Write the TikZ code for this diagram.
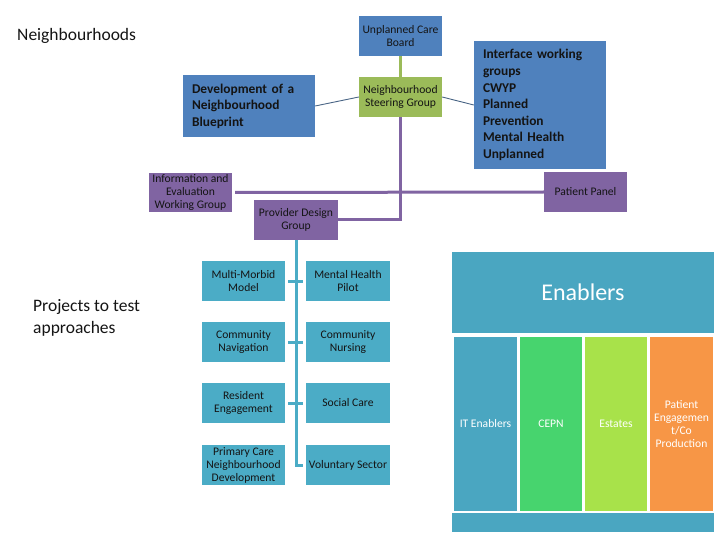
\documentclass[tikz,border=0pt]{standalone}
\usepackage{fontspec}
\setmainfont{Carlito}
\definecolor{cblue}{HTML}{4F81BD}
\definecolor{cgreen}{HTML}{9BBB59}
\definecolor{cpurple}{HTML}{8064A2}
\definecolor{cteal}{HTML}{4BACC6}
\definecolor{ctealE}{HTML}{4AA6C1}
\definecolor{ccepn}{HTML}{47D46E}
\definecolor{cestates}{HTML}{A8E24A}
\definecolor{corange}{HTML}{F79646}
\definecolor{cslate}{HTML}{4A6585}
\definecolor{ctext}{HTML}{141414}
\tikzset{
  box/.style={draw=none, inner sep=0.5pt, align=center, text=ctext,
    font=\fontsize{11.6}{13}\selectfont},
  bigbox/.style={draw=none, fill=cblue, inner xsep=9pt, inner ysep=2pt, align=left,
    text=ctext, font=\fontsize{13.4}{16.6}\selectfont\bfseries},
  tealbox/.style={box, fill=cteal, minimum height=40pt},
  encol/.style={draw=none, inner sep=0.5pt, align=center, text=white,
    font=\fontsize{11.6}{13}\selectfont, minimum height=174pt},
  thin/.style={draw=cslate, line width=0.9pt},
  thickg/.style={draw=cgreen, line width=3pt},
  thickp/.style={draw=cpurple, line width=3pt},
  thickt/.style={draw=cteal, line width=3pt},
  heading/.style={inner sep=0pt, align=left, text=ctext,
    font=\fontsize{17.5}{22}\selectfont}
}
\begin{document}
\begin{tikzpicture}[x=1pt,y=-1pt]
\useasboundingbox (0,0) rectangle (720,540);
% headings
\node[heading, anchor=west] (hN) at (17,36) {Neighbourhoods};
\node[heading, anchor=west] (hP) at (33,318) {Projects to test\\approaches};
% top nodes
\node[box, fill=cblue, minimum width=83pt, minimum height=40pt] (ucb) at (400.5,36) {Unplanned Care\\Board};
\node[box, fill=cgreen, minimum width=83pt, minimum height=40pt] (nsg) at (400.5,97) {Neighbourhood\\Steering Group};
\node[bigbox, text width=114pt, minimum height=62pt] (blue) at (249,106) {Development of a\\Neighbourhood\\Blueprint};
\node[bigbox, text width=114pt, minimum height=128pt] (iface) at (540,105) {Interface working\\groups\\CWYP\\Planned\\Prevention\\Mental Health\\Unplanned};
\node[box, fill=cpurple, minimum width=83pt, minimum height=40pt] (pp) at (585.5,192) {Patient Panel};
\node[box, fill=cpurple, minimum width=83pt, minimum height=39pt] (ieg) at (190.5,192.5) {Information and\\Evaluation\\Working Group};
\node[box, fill=cpurple, minimum width=84pt, minimum height=40pt] (pdg) at (296,220) {Provider Design\\Group};
% project boxes
\node[tealbox, minimum width=83pt] (r1l) at (243.5,281) {Multi-Morbid\\Model};
\node[tealbox, minimum width=84pt] (r1r) at (348,281) {Mental Health\\Pilot};
\node[tealbox, minimum width=83pt] (r2l) at (243.5,342) {Community\\Navigation};
\node[tealbox, minimum width=84pt] (r2r) at (348,342) {Community\\Nursing};
\node[tealbox, minimum width=83pt] (r3l) at (243.5,403) {Resident\\Engagement};
\node[tealbox, minimum width=84pt] (r3r) at (348,403) {Social Care};
\node[tealbox, minimum width=83pt] (r4l) at (243.5,465) {Primary Care\\Neighbourhood\\Development};
\node[tealbox, minimum width=84pt] (r4r) at (348,465) {Voluntary Sector};
% enablers
\node[draw=none, fill=ctealE, minimum width=262pt, minimum height=81pt, text=white,
  font=\fontsize{24}{28}\selectfont] (en) at (583,292.5) {Enablers};
\node[encol, fill=ctealE, minimum width=63pt] (it) at (485.5,424) {IT Enablers};
\node[encol, fill=ccepn, minimum width=62pt] (cepn) at (551,424) {CEPN};
\node[encol, fill=cestates, minimum width=62pt] (est) at (616,424) {Estates};
\node[encol, fill=corange, minimum width=63pt] (pe) at (681.5,424) {Patient\\Engagemen\\t/Co\\Production};
\node[draw=none, fill=ctealE, minimum width=262pt, minimum height=19pt, inner sep=0pt] (bar) at (583,522.5) {};
% connectors
\draw[thickg] (ucb.south) -- (nsg.north);
\draw[thin] (blue.east) -- (nsg.west);
\draw[thin] (nsg.east) -- (iface.west);
\coordinate (j) at (nsg.south |- pdg.east);
\draw[thickp] (nsg.south) -- (j) -- (pdg.east);
\draw[thickp, shorten <=3pt] (ieg.east) -- (pp.west);
\coordinate (tb) at (pdg.south |- r4l.east);
\draw[thickt] (pdg.south) -- (tb) -- ([xshift=-3pt]r4r.west);
\draw[thickt, shorten <=3pt, shorten >=3pt] (r1l.east) -- (r1r.west);
\draw[thickt, shorten <=3pt, shorten >=3pt] (r2l.east) -- (r2r.west);
\draw[thickt, shorten <=3pt, shorten >=3pt] (r3l.east) -- (r3r.west);
\end{tikzpicture}
\end{document}
